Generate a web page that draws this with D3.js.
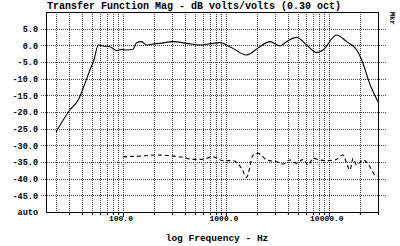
<!DOCTYPE html>
<html>
<head>
<meta charset="utf-8">
<script src="https://cdn.jsdelivr.net/npm/d3@7"></script>
<style>
  body { margin: 0; background: #fff; }
  svg { display: block; }
  text { font-family: "Liberation Mono", "DejaVu Sans Mono", monospace; font-weight: bold; fill: #000; }
</style>
</head>
<body>
<div id="chart"></div>
<script>
// magnitude trace (solid), frequency in Hz, level in dB
var magFreq = [22.4, 30.5, 36.8, 42.8, 47.8, 52.3, 57.6, 64, 74.8, 86.9, 97.1, 108.6, 125, 135.8, 151.8, 170, 195, 228, 306, 416, 559, 750, 874, 1095, 1584, 2139, 2676, 3349, 3887, 4866, 6093, 7628, 8773, 11890, 14890, 18640, 20860, 25200, 30000];
var magDb = [-26.0, -19.4, -16.4, -11.4, -7.4, -4.4, 0.1, -0.2, -0.4, -1.6, -1.2, -1.4, -1.2, 0.8, 1.1, 0.1, 0.4, 0.6, 1.1, 0.6, 0.1, 0.6, 0.8, -0.4, -2.9, -0.4, 1.1, -0.2, 1.1, 2.4, 0.1, -2.2, -1.4, 3.1, 1.1, -1.4, -4.4, -11.9, -16.9];

// second trace (dashed)
var refFreq = [100, 156, 212, 286, 382, 478, 598, 748, 935, 1169, 1420, 1587, 1841, 2059, 2485, 3107, 3599, 4178, 4853, 5624, 6290, 7040, 8180, 9500, 11440, 13770, 14860, 16000, 17220, 18570, 21530, 25000, 27980, 30000];
var refDb = [-33.4, -33.2, -32.9, -33.1, -33.6, -34.2, -34.2, -33.4, -34.6, -34.6, -36.9, -39.6, -32.9, -32.4, -34.4, -34.9, -35.6, -34.4, -35.4, -34.2, -35.9, -33.9, -34.4, -34.6, -34.4, -32.9, -35.4, -37.4, -33.9, -35.9, -34.4, -36.4, -38.9, -39.2];

var gridFreq = [22.4, 30, 40, 50, 60, 70, 80, 90, 100, 200, 300, 400, 500, 600, 700, 800, 900, 1000, 2000, 3000, 4000, 5000, 6000, 7000, 8000, 9000, 10000, 20000, 30000];
var xLabelFreq = [100, 1000, 10000];
var yTicks = [5, 0, -5, -10, -15, -20, -25, -30, -35, -40, -45];

var width = 400, height = 246;
var plotL = 46, plotR = 378, plotT = 12, plotB = 212;

var svg = d3.select("#chart").append("svg")
  .attr("width", width)
  .attr("height", height);

var x = d3.scaleLog().domain([17.9, 30000]).range([plotL, plotR]);
var y = d3.scaleLinear().domain([-50, 10]).range([plotB, plotT]);

// horizontal grid, runs a bit outside the frame like the analyzer plot
svg.append("g")
  .selectAll("line")
  .data(yTicks)
  .enter().append("line")
    .attr("x1", plotL - 5)
    .attr("x2", plotR + 8)
    .attr("y1", function(d) { return Math.round(y(d)) + 0.5; })
    .attr("y2", function(d) { return Math.round(y(d)) + 0.5; })
    .attr("stroke", "#444")
    .attr("stroke-width", 1)
    .attr("stroke-dasharray", "1,1");

// vertical grid
svg.append("g")
  .selectAll("line")
  .data(gridFreq)
  .enter().append("line")
    .attr("x1", function(d) { return Math.round(x(d)) + 0.5; })
    .attr("x2", function(d) { return Math.round(x(d)) + 0.5; })
    .attr("y1", plotT)
    .attr("y2", plotB)
    .attr("stroke", "#444")
    .attr("stroke-width", 1)
    .attr("stroke-dasharray", "1,1");

// small ticks under the frame
var xAxis = d3.axisBottom(x)
  .tickValues(gridFreq.slice(1))
  .tickSize(3)
  .tickFormat("");
svg.append("g")
  .attr("transform", "translate(0," + plotB + ")")
  .call(xAxis)
  .call(function(g) { g.select(".domain").remove(); })
  .selectAll("line")
    .attr("stroke", "#000")
    .attr("y2", function(d) { return xLabelFreq.indexOf(d) >= 0 ? 5 : 3; });

// x labels
svg.append("g")
  .selectAll("text")
  .data(xLabelFreq)
  .enter().append("text")
    .attr("x", function(d) { return x(d) - 2; })
    .attr("y", 221)
    .attr("text-anchor", "middle")
    .style("font-size", "8px")
    .text(function(d) { return d.toFixed(1); });

// y labels
var yAxis = d3.axisLeft(y)
  .tickValues(yTicks.concat([-50]))
  .tickSize(0)
  .tickPadding(8)
  .tickFormat(function(d) { return d == -50 ? "auto" : d.toFixed(1); });
svg.append("g")
  .attr("transform", "translate(" + plotL + ",0)")
  .call(yAxis)
  .call(function(g) { g.select(".domain").remove(); })
  .selectAll("text")
    .style("font-family", "'Liberation Mono', monospace")
    .style("font-weight", "bold")
    .style("font-size", "8.5px")
    .attr("dy", "0.35em");

// frame
svg.append("rect")
  .attr("x", plotL + 0.5)
  .attr("y", plotT + 0.5)
  .attr("width", plotR - plotL)
  .attr("height", plotB - plotT)
  .attr("fill", "none")
  .attr("stroke", "#000")
  .attr("stroke-width", 1);

var line = d3.line()
  .x(function(d) { return x(d[0]); })
  .y(function(d) { return y(d[1]); })
  .curve(d3.curveMonotoneX);

svg.append("path")
  .datum(d3.zip(magFreq, magDb))
  .attr("d", line)
  .attr("fill", "none")
  .attr("stroke", "#000")
  .attr("stroke-width", 1.1);

svg.append("path")
  .datum(d3.zip(refFreq, refDb))
  .attr("d", line)
  .attr("fill", "none")
  .attr("stroke", "#000")
  .attr("stroke-width", 1.1)
  .attr("stroke-dasharray", "4,3");

// titles
svg.append("text")
  .attr("x", 194)
  .attr("y", 9)
  .attr("text-anchor", "middle")
  .style("font-size", "10px")
  .text("Transfer Function Mag - dB volts/volts (0.30 oct)");

svg.append("text")
  .attr("x", 217)
  .attr("y", 241)
  .attr("text-anchor", "middle")
  .style("font-size", "9.5px")
  .text("log Frequency - Hz");

svg.append("text")
  .attr("transform", "translate(390,12) rotate(90)")
  .style("font-size", "7px")
  .text("Mkr");
</script>
</body>
</html>
